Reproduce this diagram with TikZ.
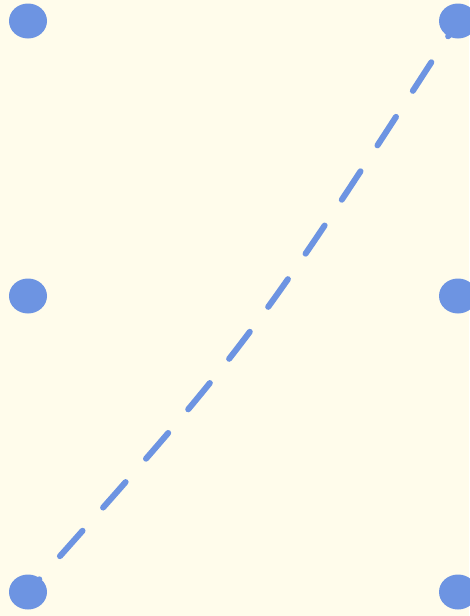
\documentclass[tikz,border=0pt]{standalone}
\usetikzlibrary{shapes.geometric}
\definecolor{cream}{RGB}{255,252,235}
\definecolor{dotblue}{RGB}{109,148,226}

\begin{document}
\begin{tikzpicture}[
		x=1pt, y=-1pt,
		d/.style = {ellipse,	fill=dotblue,	minimum width=38, minimum height=35, inner sep=0pt},
		l/.style = {draw=dotblue,	line width=6pt,	line cap=round, dash pattern=on 34pt off 31pt, dash phase=17pt}
		]
		
		%Background
		\fill[cream]	(0, 0)	rectangle	(469, 616);
		\useasboundingbox	(0, 0)	rectangle	(469, 616);
		
		%Nodes
		\node[d]	(tl)	at	(28, 21)	{};
		\node[d]	(tr)	at	(458, 21)	{};
		\node[d]	(ml)	at	(28, 296)	{};
		\node[d]	(mr)	at	(458, 296)	{};
		\node[d]	(bl)	at	(28, 592)	{};
		\node[d]	(br)	at	(458, 592)	{};
		
		\coordinate	(c)	at	(250, 343);
		
		%Lines
		\draw[l]	(bl.center)	.. controls (c) ..	(tr.center);
	\end{tikzpicture}
\end{document}
